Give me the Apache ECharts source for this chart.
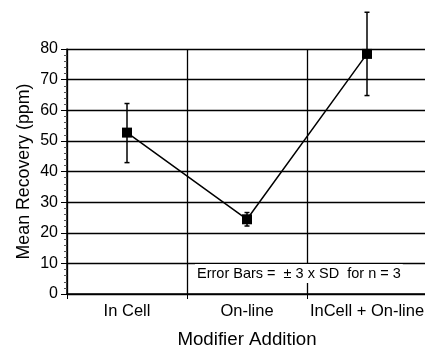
<!DOCTYPE html>
<html>
<head>
<meta charset="utf-8">
<script src="https://cdn.jsdelivr.net/npm/echarts@6/dist/echarts.min.js"></script>
<style>
  html, body { margin: 0; padding: 0; background: #fff; }
  #chart { width: 425px; height: 347px; }
</style>
</head>
<body>
<div id="chart"></div>
<script>
// Modifier addition methods
const categories = ['In Cell', 'On-line', 'InCell + On-line'];
// Mean recovery (ppm)
const meanRecovery = [52.7, 24.4, 78.4];
// Error bar limits (±3 SD, n = 3)
const errLow = [42.9, 22.2, 64.8];
const errHigh = [62.2, 26.6, 92.0];
const yTicks = { min: 0, max: 80, interval: 10 };

const font = '"Liberation Sans", Arial, sans-serif';
const chart = echarts.init(document.getElementById('chart'));

const errorData = categories.map((c, i) => [i, errLow[i], errHigh[i]]);

chart.setOption({
  animation: false,
  grid: { left: 67, top: 49, width: 360, bottom: 53, containLabel: false, outerBoundsMode: 'none' },
  xAxis: {
    type: 'category',
    data: categories,
    boundaryGap: true,
    name: 'Modifier Addition',
    nameLocation: 'middle',
    nameGap: 36,
    nameMoveOverlap: false,
    nameTextStyle: { color: '#000', fontSize: 18.7, fontFamily: font },
    axisLine: { lineStyle: { color: '#000', width: 1.5 } },
    axisTick: { show: true, length: 5, lineStyle: { color: '#000' } },
    axisLabel: { color: '#000', fontSize: 16.5, fontFamily: font, margin: 9, interval: 0 },
    splitLine: { show: true, interval: 0, lineStyle: { color: '#000', width: 1.3 } }
  },
  yAxis: {
    type: 'value',
    min: yTicks.min,
    max: yTicks.max,
    interval: yTicks.interval,
    name: 'Mean Recovery (ppm)',
    nameLocation: 'middle',
    nameGap: 34,
    nameMoveOverlap: false,
    nameTextStyle: { color: '#000', fontSize: 17.8, fontFamily: font },
    axisLine: { show: true, lineStyle: { color: '#000', width: 1.5 } },
    axisTick: { show: true, length: 6, lineStyle: { color: '#000' } },
    minorTick: { show: true, splitNumber: 5, length: 3, lineStyle: { color: '#555' } },
    axisLabel: { color: '#000', fontSize: 16, fontFamily: font, margin: 9 },
    splitLine: { show: true, lineStyle: { color: '#000', width: 1.3 } }
  },
  graphic: [{
    type: 'text',
    left: 195,
    top: 264,
    z: 10,
    style: {
      text: 'Error Bars =  \u00b1 3 x SD  for n = 3',
      fill: '#000',
      font: '14.5px ' + font,
      backgroundColor: '#fff',
      padding: [2, 2, 2, 2]
    }
  }],
  series: [
    {
      type: 'custom',
      z: 3,
      data: errorData,
      renderItem: function (params, api) {
        const x = api.value(0);
        const lo = api.coord([x, api.value(1)]);
        const hi = api.coord([x, api.value(2)]);
        const cap = 2.5;
        const style = { stroke: '#000', lineWidth: 1.5 };
        return {
          type: 'group',
          children: [
            { type: 'line', shape: { x1: lo[0], y1: lo[1], x2: hi[0], y2: hi[1] }, style },
            { type: 'line', shape: { x1: lo[0] - cap, y1: lo[1], x2: lo[0] + cap, y2: lo[1] }, style },
            { type: 'line', shape: { x1: hi[0] - cap, y1: hi[1], x2: hi[0] + cap, y2: hi[1] }, style }
          ]
        };
      }
    },
    {
      type: 'line',
      z: 4,
      data: meanRecovery,
      symbol: 'rect',
      symbolSize: 10,
      itemStyle: { color: '#000' },
      lineStyle: { color: '#000', width: 1.5 }
    }
  ]
});
</script>
</body>
</html>
